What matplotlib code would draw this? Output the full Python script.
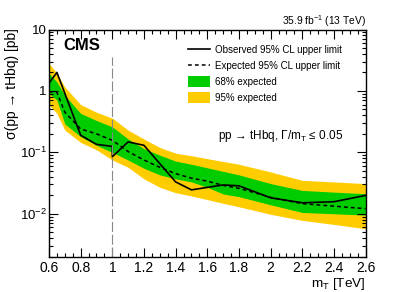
import numpy as np
import matplotlib as mpl
mpl.use('Agg')
from matplotlib import pyplot as plt
from matplotlib.ticker import MultipleLocator, FixedLocator, FixedFormatter, FuncFormatter, LogLocator, NullFormatter
from matplotlib.lines import Line2D
from matplotlib.patches import Patch

plt.rcParams['font.family'] = ['Liberation Sans', 'DejaVu Sans']
plt.rcParams['mathtext.fontset'] = 'custom'
plt.rcParams['mathtext.rm'] = 'Liberation Sans'
plt.rcParams['mathtext.it'] = 'Liberation Sans:italic'
plt.rcParams['mathtext.bf'] = 'Liberation Sans:bold'

# mass points [TeV] and expected limits [pb]
mass = [0.6, 0.65, 0.7, 0.8, 0.9, 1.0, 1.1, 1.2, 1.3, 1.4, 1.5, 1.6, 1.7, 1.8, 2.0, 2.2, 2.4, 2.6]
exp_med = [0.97, 0.95, 0.45, 0.24, 0.20, 0.157, 0.103, 0.075, 0.057, 0.045, 0.038, 0.034, 0.029, 0.026, 0.0185, 0.0146, 0.0133, 0.0121]
g_hi = [1.93, 1.4, 0.85, 0.43, 0.33, 0.26, 0.165, 0.115, 0.09, 0.072, 0.064, 0.056, 0.049, 0.043, 0.031, 0.024, 0.0225, 0.0212]
g_lo = [0.91, 0.71, 0.29, 0.18, 0.13, 0.10, 0.075, 0.055, 0.043, 0.037, 0.033, 0.027, 0.021, 0.019, 0.014, 0.0105, 0.010, 0.0095]
y_hi = [2.8, 1.95, 1.16, 0.6, 0.45, 0.36, 0.23, 0.165, 0.12, 0.097, 0.088, 0.079, 0.071, 0.064, 0.048, 0.035, 0.033, 0.031]
y_lo = [0.59, 0.43, 0.23, 0.145, 0.11, 0.075, 0.057, 0.037, 0.027, 0.022, 0.0195, 0.017, 0.0148, 0.013, 0.0098, 0.0078, 0.0067, 0.0057]

# observed (two values at 1 TeV, one per analysis category)
mass_obs = [0.6, 0.65, 0.8, 0.9, 1.0, 1.0, 1.1, 1.2, 1.4, 1.5, 1.7, 1.8, 2.0, 2.2, 2.4, 2.6]
obs = [1.34, 2.0, 0.19, 0.135, 0.125, 0.085, 0.148, 0.130, 0.033, 0.0245, 0.0295, 0.0285, 0.0182, 0.0151, 0.0157, 0.0199]

boundary = 1.0

W, H = 407, 292
f = plt.figure(figsize=(W / 100, H / 100), dpi=100)
ax = f.add_axes([49 / W, 1 - 256.7 / H, (365.6 - 49) / W, (256.7 - 29.5) / H])

ax.fill_between(mass, y_lo, y_hi, color='#ffcc00', lw=0)
ax.fill_between(mass, g_lo, g_hi, color='#00cc00', lw=0)
ax.plot(mass, exp_med, color='k', lw=1.1, dashes=(2.5, 2))
ax.plot(mass_obs, obs, color='k', lw=1.2)
ax.axvline(boundary, ymax=0.877, color='#888888', lw=0.8, dashes=(9, 2.5))

ax.set_yscale('log')
ax.set_xlim(0.6, 2.6)
ax.set_ylim(0.002, 10)

ax.xaxis.set_major_locator(MultipleLocator(0.2))
ax.xaxis.set_minor_locator(MultipleLocator(0.05))
ax.xaxis.set_major_formatter(FuncFormatter(lambda v, p: '%g' % round(v, 2)))
ax.yaxis.set_major_locator(FixedLocator([0.01, 0.1, 1, 10]))
ax.yaxis.set_major_formatter(FixedFormatter(['$10^{-2}$', '$10^{-1}$', '1', '10']))
ax.yaxis.set_minor_locator(LogLocator(base=10, subs=np.arange(2, 10), numticks=20))
ax.yaxis.set_minor_formatter(NullFormatter())

ax.tick_params(which='both', direction='in', top=True, right=True, width=0.8)
ax.tick_params(which='major', length=6.5)
ax.tick_params(which='minor', length=3.2)
ax.tick_params(axis='x', labelsize=10, pad=3)
ax.tick_params(axis='y', labelsize=9.5, pad=1.5)
for s in ax.spines.values():
    s.set_linewidth(1.0)

f.text(365.6 / W, 1 - 284.5 / H, r'm$_{\rm T}$ [TeV]', ha='right', va='center', fontsize=9.7)
f.text(12 / W, 1 - 28 / H, 'σ(pp → tHbq) [pb]', rotation=90, ha='center', va='top', fontsize=10)
f.text(365.6 / W, 1 - 21 / H, r'35.9 fb$^{-1}$ (13 TeV)', ha='right', va='center', fontsize=7.4)
f.text(63 / W, 1 - 45 / H, 'CMS', ha='left', va='center', fontsize=12, fontweight='bold')
f.text(218 / W, 1 - 136 / H, r'pp → tHbq, Γ/m$_{\rm T}$ ≤ 0.05', ha='left', va='center', fontsize=8.5)

handles = [Line2D([], [], color='k', lw=1.2),
           Line2D([], [], color='k', lw=1.1, dashes=(2.5, 2)),
           Patch(color='#00cc00', lw=0),
           Patch(color='#ffcc00', lw=0)]
labels = ['Observed 95% CL upper limit', 'Expected 95% CL upper limit',
          '68% expected', '95% expected']
ax.legend(handles, labels, loc='upper left', bbox_to_anchor=(188 / W, 1 - 44.5 / H),
          bbox_transform=f.transFigure, frameon=False, fontsize=7,
          borderpad=0, borderaxespad=0, handlelength=2.26, handleheight=1.35,
          handletextpad=0.5, labelspacing=0.52)

f.savefig('out.png', dpi=100)
